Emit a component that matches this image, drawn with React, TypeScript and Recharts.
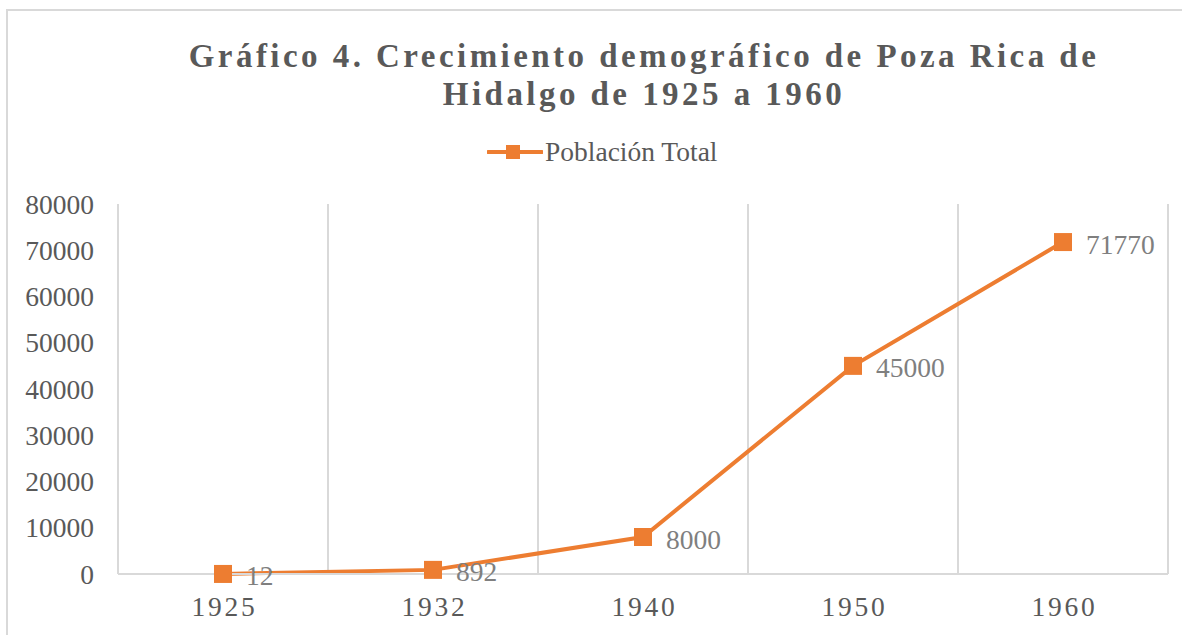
import { LineChart, Line, XAxis, YAxis, CartesianGrid, LabelList } from "recharts";

const years = ["1925", "1932", "1940", "1950", "1960"];
const poblacion = [12, 892, 8000, 45000, 71770];
const yTicks = [0, 10000, 20000, 30000, 40000, 50000, 60000, 70000, 80000];

const data = years.map((year, i) => ({ year, total: poblacion[i] }));

const ORANGE = "#ED7D31";
const TEXT = "#595959";
const GRID = "#d9d9d9";
const FONT = "'Times New Roman', 'Liberation Serif', serif";
const FS = 27.5;

function Square(props: any) {
  const { cx, cy } = props;
  if (cx == null || cy == null) return null;
  return <rect x={cx - 9} y={cy - 9} width={18} height={18} fill={ORANGE} />;
}

function YearTick(props: any) {
  const { x, y, payload } = props;
  return (
    <text
      x={x + 1.5}
      y={y}
      dy={34}
      textAnchor="middle"
      fill={TEXT}
      fontSize={FS}
      style={{ fontFamily: FONT }}
      letterSpacing={2.8}
    >
      {payload.value}
    </text>
  );
}

function ValueLabel(props: any) {
  const { x, y, width, value } = props;
  return (
    <text
      x={x + (width || 0) / 2 + 23}
      y={y + 2}
      dominantBaseline="central"
      fill="#7f7f7f"
      fontSize={FS}
      style={{ fontFamily: FONT }}
    >
      {value}
    </text>
  );
}

function YTick(props: any) {
  const { x, y, payload } = props;
  return (
    <text
      x={x}
      y={y}
      dominantBaseline="central"
      textAnchor="end"
      fill={TEXT}
      fontSize={FS}
      style={{ fontFamily: FONT }}
    >
      {payload.value}
    </text>
  );
}

export default function App() {
  return (
    <div
      style={{
        position: "fixed",
        left: 0,
        top: 0,
        width: 1182,
        height: 635,
        overflow: "hidden",
        background: "#fff",
        fontFamily: FONT,
      }}
    >
      <div
        style={{
          position: "absolute",
          left: 6,
          top: 9,
          width: 1200,
          height: 660,
          border: "2px solid #d9d9d9",
        }}
      />

      <div
        style={{
          position: "absolute",
          left: 0,
          top: 37,
          width: 1288,
          textAlign: "center",
          color: TEXT,
          fontWeight: "bold",
          fontSize: 33,
          letterSpacing: 3.45,
          lineHeight: "38px",
        }}
      >
        Gráfico 4. Crecimiento demográfico de Poza Rica de
        <br />
        Hidalgo de 1925 a 1960
      </div>

      <div
        style={{
          position: "absolute",
          left: 487,
          top: 136,
          display: "flex",
          alignItems: "center",
          height: 32,
          color: TEXT,
          fontSize: FS,
        }}
      >
        <svg width={56} height={20}>
          <line x1={1} y1={10} x2={55} y2={10} stroke={ORANGE} strokeWidth={4} strokeLinecap="round" />
          <rect x={19} y={3} width={14} height={14} fill={ORANGE} />
        </svg>
        <span style={{ marginLeft: 2 }}>Población Total</span>
      </div>

      <div style={{ position: "absolute", left: 0, top: 0 }}>
        <LineChart
          width={1182}
          height={635}
          data={data}
          margin={{ top: 204, right: 14, bottom: 21, left: 8 }}
        >
          <CartesianGrid
            horizontal={false}
            stroke={GRID}
            strokeWidth={2}
            verticalCoordinatesGenerator={({ offset }: any) =>
              [0, 1, 2, 3, 4, 5].map((i) => offset.left + (i * offset.width) / years.length)
            }
          />
          <XAxis
            dataKey="year"
            scale="band"
            height={40}
            axisLine={{ stroke: GRID, strokeWidth: 2 }}
            tickLine={false}
            tick={<YearTick />}
            interval={0}
          />
          <YAxis
            width={110}
            domain={[0, 80000]}
            ticks={yTicks}
            axisLine={false}
            tickLine={false}
            tickMargin={18}
            tick={<YTick />}
          />
          <Line
            dataKey="total"
            type="linear"
            stroke={ORANGE}
            strokeWidth={4}
            dot={<Square />}
            activeDot={false}
            isAnimationActive={false}
          >
            <LabelList dataKey="total" content={<ValueLabel />} />
          </Line>
        </LineChart>
      </div>
    </div>
  );
}
